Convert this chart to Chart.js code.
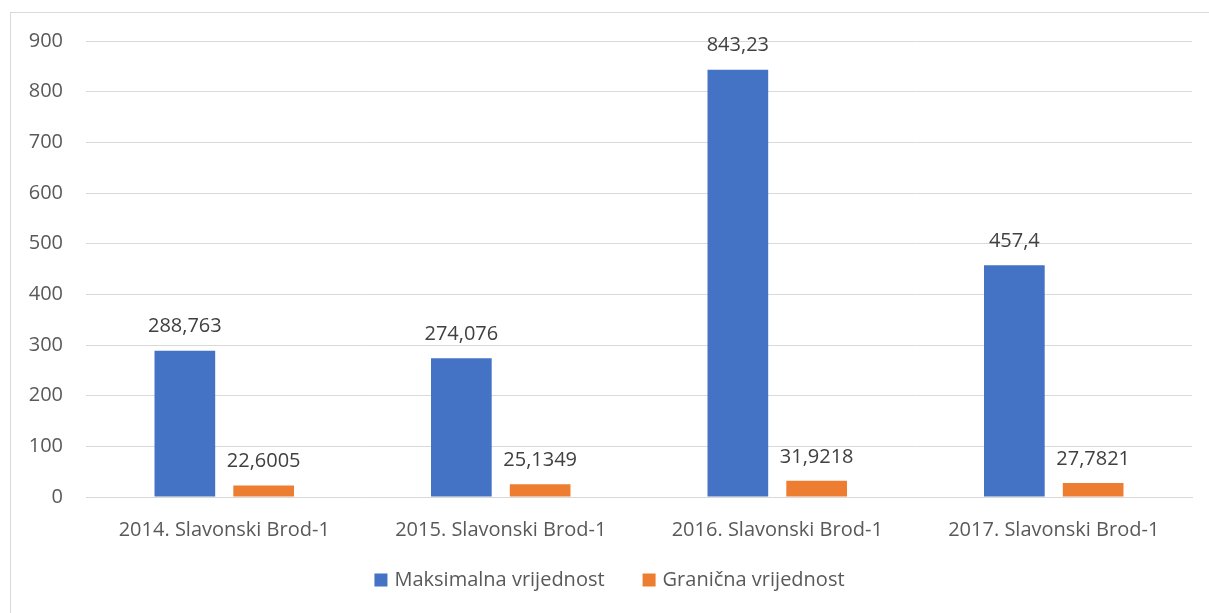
<!DOCTYPE html>
<html lang="hr">
<head>
  <meta charset="UTF-8">
  <title>Slavonski Brod-1</title>
  <style>
    body {
      margin: 0;
      background: #ffffff;
      overflow: hidden;
      font-family: "Open Sans", sans-serif;
    }
    .frame {
      position: absolute;
      left: 10px;
      top: 12px;
      width: 1215px;
      height: 605px;
      border: 1px solid #d9d9d9;
    }
  </style>
</head>
<body>
  <div class="frame"><canvas id="chart"></canvas></div>

  <script src="https://cdn.jsdelivr.net/npm/chart.js"></script>
  <script>
    const categories = ['2014. Slavonski Brod-1', '2015. Slavonski Brod-1', '2016. Slavonski Brod-1', '2017. Slavonski Brod-1'];
    const maksimalna = [288.763, 274.076, 843.23, 457.4];
    const granicna = [22.6005, 25.1349, 31.9218, 27.7821];
    const yTicks = [0, 100, 200, 300, 400, 500, 600, 700, 800, 900];

    const FONT = '"Open Sans", sans-serif';
    const SIZE = 20;

    // value labels above bars, decimal comma
    const barLabels = {
      id: 'barLabels',
      afterDatasetsDraw(chart) {
        const ctx = chart.ctx;
        ctx.save();
        ctx.font = SIZE + 'px ' + FONT;
        ctx.fillStyle = '#404040';
        ctx.textAlign = 'center';
        ctx.textBaseline = 'middle';
        chart.data.datasets.forEach((ds, i) => {
          chart.getDatasetMeta(i).data.forEach((bar, j) => {
            const txt = String(ds.data[j]).replace('.', ',');
            ctx.fillText(txt, bar.x, bar.y - 24);
          });
        });
        ctx.restore();
      }
    };

    // legend drawn by hand so the gap between items can be wide
    const bottomLegend = {
      id: 'bottomLegend',
      afterDraw(chart) {
        const ctx = chart.ctx;
        ctx.save();
        ctx.font = SIZE + 'px ' + FONT;
        ctx.textBaseline = 'middle';
        const box = 13, gap = 7, between = 38;
        const items = chart.data.datasets.map(ds => ({ text: ds.label, color: ds.backgroundColor, w: ctx.measureText(ds.label).width }));
        const total = items.reduce((s, it) => s + box + gap + it.w, 0) + between * (items.length - 1);
        let x = chart.width / 2 - 9 - total / 2;
        const y = 567;
        items.forEach(it => {
          ctx.fillStyle = it.color;
          ctx.fillRect(x, y - box / 2, box, box);
          x += box + gap;
          ctx.fillStyle = '#595959';
          ctx.fillText(it.text, x, y);
          x += it.w + between;
        });
        ctx.restore();
      }
    };

    new Chart(document.getElementById('chart'), {
      type: 'bar',
      data: {
        labels: categories,
        datasets: [
          { label: 'Maksimalna vrijednost', data: maksimalna, backgroundColor: '#4472C4' },
          { label: 'Granična vrijednost', data: granicna, backgroundColor: '#ED7D31' }
        ]
      },
      options: {
        responsive: true,
        maintainAspectRatio: false,
        animation: false,
        categoryPercentage: 0.57,
        barPercentage: 0.77,
        layout: { padding: { top: 28, right: 34, bottom: 57, left: 0 } },
        plugins: {
          tooltip: { enabled: false },
          legend: { display: false }
        },
        scales: {
          x: {
            grid: { display: false, drawTicks: false },
            border: { display: true, color: '#d9d9d9' },
            ticks: { color: '#595959', padding: 21, font: { family: FONT, size: SIZE } },
            afterFit(scale) { scale.height = 64; }
          },
          y: {
            min: 0,
            max: 900,
            afterBuildTicks(scale) { scale.ticks = yTicks.map(v => ({ value: v })); },
            grid: { color: '#d9d9d9', drawTicks: false },
            border: { display: false },
            ticks: { color: '#595959', padding: 23, font: { family: FONT, size: SIZE } },
            afterFit(scale) {
              scale.width = 75;
              scale.paddingTop = 0;
              scale.paddingBottom = 0;
            }
          }
        }
      },
      plugins: [barLabels, bottomLegend]
    });
  </script>
</body>
</html>
